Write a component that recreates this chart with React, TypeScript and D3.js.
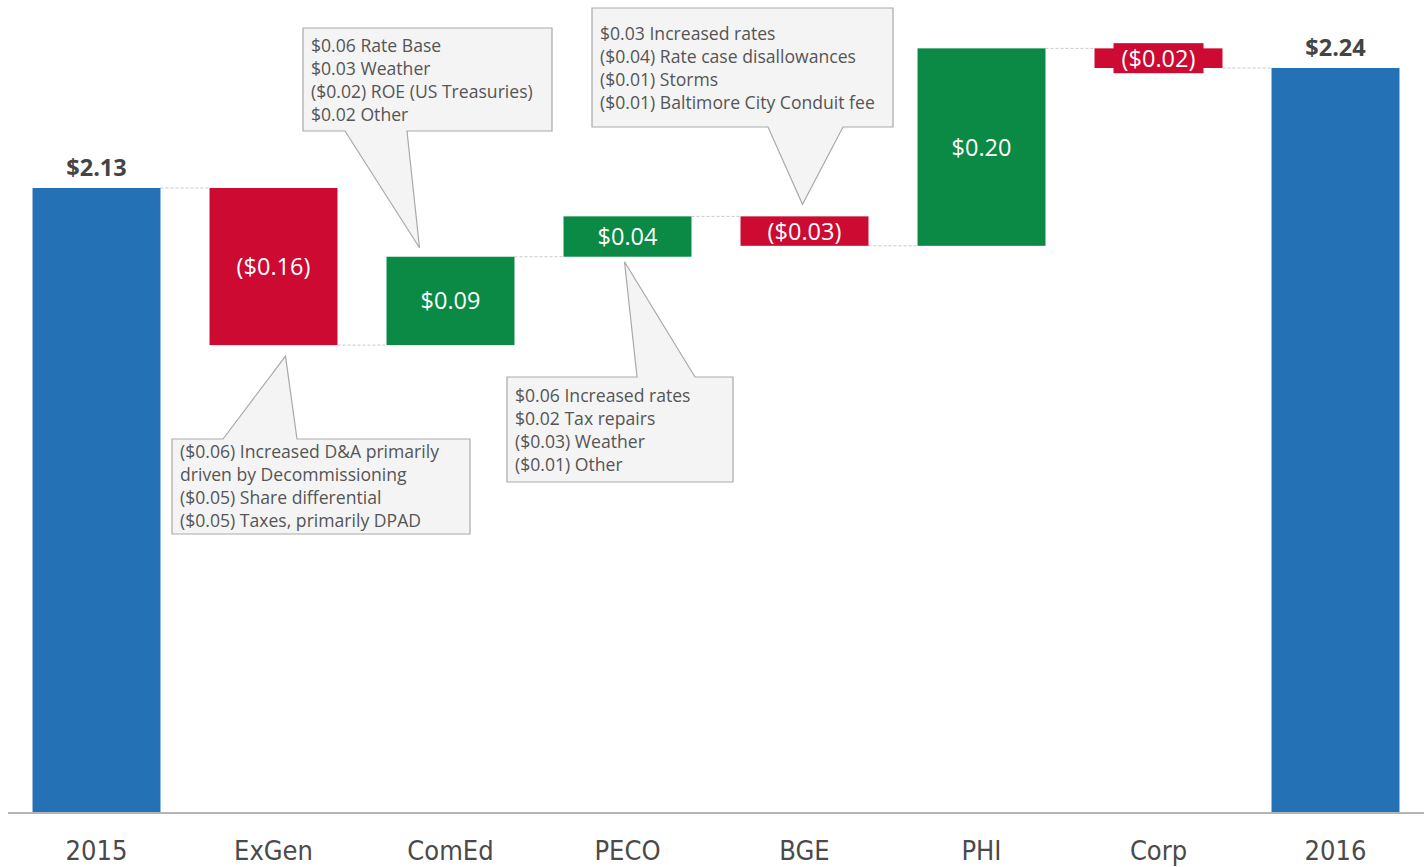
import React from "react";
import * as d3 from "d3";

// waterfall: 2015 -> 2016 adjusted EPS bridge
const categories = ["2015", "ExGen", "ComEd", "PECO", "BGE", "PHI", "Corp", "2016"];
const startValue = 2.13;
const endValue = 2.24;
// step changes for the middle bars (as drawn, unrounded)
const deltas = [-0.144, 0.081, 0.037, -0.027, 0.181, -0.018];
const valueLabels = ["$2.13", "($0.16)", "$0.09", "$0.04", "($0.03)", "$0.20", "($0.02)", "$2.24"];

const exgenNotes = [
  "($0.06) Increased D&A primarily",
  "driven by Decommissioning",
  "($0.05) Share differential",
  "($0.05) Taxes, primarily DPAD",
];
const comedNotes = ["$0.06 Rate Base", "$0.03 Weather", "($0.02) ROE (US Treasuries)", "$0.02 Other"];
const pecoNotes = ["$0.06 Increased rates", "$0.02 Tax repairs", "($0.03) Weather", "($0.01) Other"];
const bgeNotes = [
  "$0.03 Increased rates",
  "($0.04) Rate case disallowances",
  "($0.01) Storms",
  "($0.01) Baltimore City Conduit fee",
];

const W = 1428;
const H = 867;
const BLUE = "#2571b5";
const RED = "#cc0a32";
const GREEN = "#0b8a45";

type Bar = { cat: string; y0: number; y1: number; kind: "total" | "up" | "down"; label: string };

const buildBars = (): Bar[] => {
  const bars: Bar[] = [{ cat: categories[0], y0: 0, y1: startValue, kind: "total", label: valueLabels[0] }];
  let level = startValue;
  deltas.forEach((d, i) => {
    const next = level + d;
    bars.push({ cat: categories[i + 1], y0: level, y1: next, kind: d >= 0 ? "up" : "down", label: valueLabels[i + 1] });
    level = next;
  });
  bars.push({ cat: categories[7], y0: 0, y1: endValue, kind: "total", label: valueLabels[7] });
  return bars;
};

// callout layout (box in px, pointer base on box edge, tip offset from bar edge)
const callouts = [
  { cat: "ExGen", lines: exgenNotes, edge: "bottom", tipDx: 12, tipDy: 11, box: [172, 439, 298, 95], base: [223, 297], textTop: 13 },
  { cat: "ComEd", lines: comedNotes, edge: "top", tipDx: -31, tipDy: -9, box: [303, 28, 249, 103], base: [345, 407], textTop: 18 },
  { cat: "PECO", lines: pecoNotes, edge: "bottom", tipDx: -3, tipDy: 5, box: [507, 377, 226, 105], base: [637, 695], textTop: 19 },
  { cat: "BGE", lines: bgeNotes, edge: "top", tipDx: -2, tipDy: -12, box: [592, 8, 301, 119], base: [768, 843], textTop: 26 },
];

const App = () => {
  const bars = buildBars();

  const x = d3.scaleBand<string>().domain(categories).range([8, 1424]).paddingInner(0.277).paddingOuter(0.1385);
  const y = d3.scaleLinear().domain([1.558, 2.24]).range([812, 68]);
  const baseY = y.range()[0];

  const barTop = (b: Bar) => (b.kind === "total" ? y(b.y1) : y(Math.max(b.y0, b.y1)));
  const barBottom = (b: Bar) => (b.kind === "total" ? baseY : y(Math.min(b.y0, b.y1)));
  const fill = (b: Bar) => (b.kind === "total" ? BLUE : b.kind === "up" ? GREEN : RED);

  const calloutPath = (c: (typeof callouts)[number]) => {
    const b = bars.find((d) => d.cat === c.cat)!;
    const cx = (x(c.cat) ?? 0) + x.bandwidth() / 2;
    const [bx, by, bw, bh] = c.box;
    const [l, r] = c.base;
    const tx = cx + c.tipDx;
    if (c.edge === "bottom") {
      // box sits below the bar, pointer rises from its top edge
      const ty = barBottom(b) + c.tipDy;
      return `M${bx},${by}L${l},${by}L${tx},${ty}L${r},${by}L${bx + bw},${by}L${bx + bw},${by + bh}L${bx},${by + bh}Z`;
    }
    const ty = barTop(b) + c.tipDy;
    return `M${bx},${by}L${bx + bw},${by}L${bx + bw},${by + bh}L${r},${by + bh}L${tx},${ty}L${l},${by + bh}L${bx},${by + bh}Z`;
  };

  const valueFont = "'Open Sans', Roboto, sans-serif";
  const axisFont = "'Liberation Sans Narrow', 'DejaVu Sans Condensed', sans-serif";

  return (
    <svg width={W} height={H} style={{ position: "absolute", left: 0, top: 0, background: "#fff" }}>
      {/* connectors */}
      {bars.slice(0, -1).map((b, i) => {
        const next = bars[i + 1];
        const lvl = y(b.y1);
        return (
          <line
            key={"c" + i}
            x1={(x(b.cat) ?? 0) + x.bandwidth()}
            x2={x(next.cat) ?? 0}
            y1={lvl}
            y2={lvl}
            stroke="#c8c8c8"
            strokeWidth={1}
            strokeDasharray="3,2"
          />
        );
      })}

      {/* bars */}
      {bars.map((b) => (
        <rect key={b.cat} x={x(b.cat)} y={barTop(b)} width={x.bandwidth()} height={barBottom(b) - barTop(b)} fill={fill(b)} />
      ))}

      {/* axis line */}
      <line x1={8} x2={1424} y1={baseY + 1} y2={baseY + 1} stroke="#b4b4b4" strokeWidth={2} />

      {/* category labels */}
      {categories.map((c) => (
        <text
          key={"t" + c}
          x={(x(c) ?? 0) + x.bandwidth() / 2}
          y={860}
          textAnchor="middle"
          fontFamily={axisFont}
          fontSize={27}
          fill="#4a4a4a"
        >
          {c}
        </text>
      ))}

      {/* value labels */}
      {bars.map((b) => {
        const cx = (x(b.cat) ?? 0) + x.bandwidth() / 2;
        if (b.kind === "total") {
          return (
            <text key={"v" + b.cat} x={cx} y={barTop(b) - 12} textAnchor="middle" fontFamily={valueFont} fontWeight={700} fontSize={23.5} fill="#444">
              {b.label}
            </text>
          );
        }
        const mid = (barTop(b) + barBottom(b)) / 2;
        const thin = barBottom(b) - barTop(b) < 26;
        return (
          <g key={"v" + b.cat}>
            {thin && <rect x={cx - 45} y={mid - 15} width={90} height={30} fill={fill(b)} />}
            <text x={cx} y={mid} dy="0.36em" textAnchor="middle" fontFamily={valueFont} fontSize={23.5} fill="#fff">
              {b.label}
            </text>
          </g>
        );
      })}

      {/* callouts */}
      {callouts.map((c) => (
        <g key={"n" + c.cat}>
          <path d={calloutPath(c)} fill="#f4f4f4" stroke="#a9a9a9" strokeWidth={1.2} />
          {c.lines.map((t, i) => (
            <text
              key={i}
              x={c.box[0] + 8}
              y={c.box[1] + c.textTop + i * 23}
              dy="0.35em"
              fontFamily={valueFont}
              fontSize={17.6}
              fill="#555"
            >
              {t}
            </text>
          ))}
        </g>
      ))}
    </svg>
  );
};

export default App;
